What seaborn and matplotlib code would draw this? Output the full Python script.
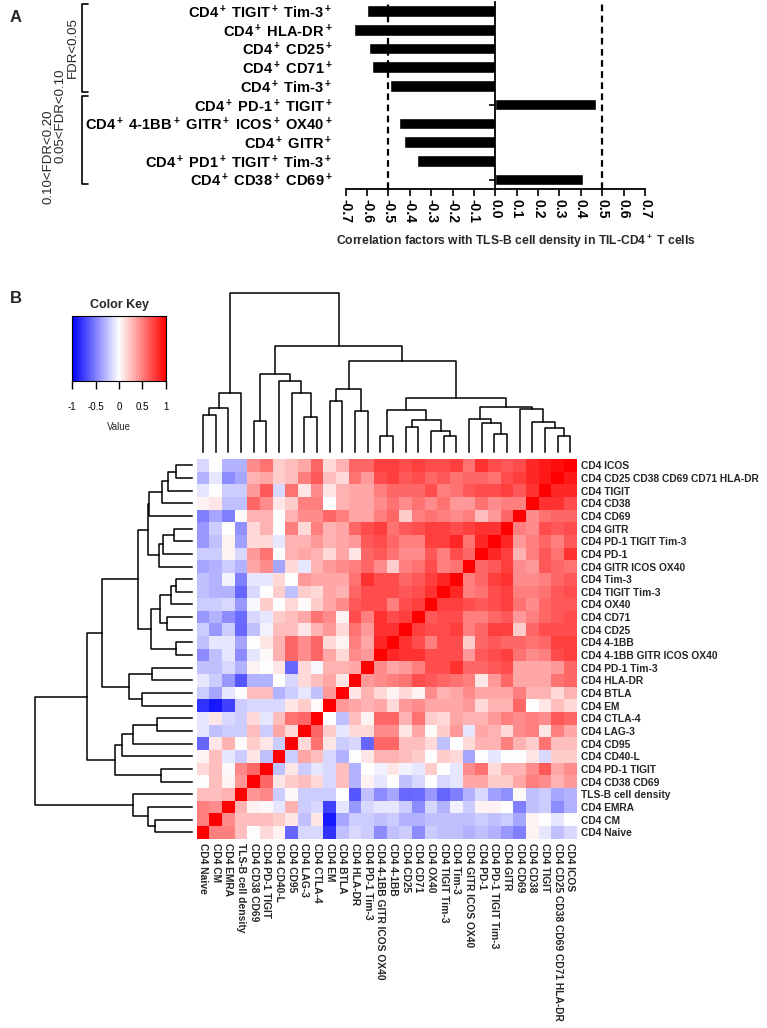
import numpy as np
import pandas as pd
import matplotlib
matplotlib.use('Agg')
import matplotlib.pyplot as plt
import matplotlib.transforms as mtransforms
import seaborn as sns

# ---- panel A data ----
bar_labels = ['CD4$^+$ TIGIT$^+$ Tim-3$^+$', 'CD4$^+$ HLA-DR$^+$', 'CD4$^+$ CD25$^+$',
              'CD4$^+$ CD71$^+$', 'CD4$^+$ Tim-3$^+$', 'CD4$^+$ PD-1$^+$ TIGIT$^+$',
              'CD4$^+$ 4-1BB$^+$ GITR$^+$ ICOS$^+$ OX40$^+$', 'CD4$^+$ GITR$^+$',
              'CD4$^+$ PD1$^+$ TIGIT$^+$ Tim-3$^+$', 'CD4$^+$ CD38$^+$ CD69$^+$']
bar_values = [-0.60, -0.66, -0.59, -0.577, -0.495, 0.469, -0.449, -0.428, -0.367, 0.411]
bar_ticks = [-0.7, -0.6, -0.5, -0.4, -0.3, -0.2, -0.1, 0.0, 0.1, 0.2, 0.3, 0.4, 0.5, 0.6, 0.7]

# ---- panel B data ----
row_labels = ['CD4 ICOS', 'CD4 CD25 CD38 CD69 CD71 HLA-DR', 'CD4 TIGIT', 'CD4 CD38', 'CD4 CD69',
              'CD4 GITR', 'CD4 PD-1 TIGIT Tim-3', 'CD4 PD-1', 'CD4 GITR ICOS OX40', 'CD4 Tim-3',
              'CD4 TIGIT Tim-3', 'CD4 OX40', 'CD4 CD71', 'CD4 CD25', 'CD4 4-1BB',
              'CD4 4-1BB GITR ICOS OX40', 'CD4 PD-1 Tim-3', 'CD4 HLA-DR', 'CD4 BTLA', 'CD4 EM',
              'CD4 CTLA-4', 'CD4 LAG-3', 'CD4 CD95', 'CD4 CD40-L', 'CD4 PD-1 TIGIT',
              'CD4 CD38 CD69', 'TLS-B cell density', 'CD4 EMRA', 'CD4 CM', 'CD4 Naive']
col_labels = row_labels[::-1]

heat_rows = [
    [-0.15, 0, -0.3, -0.3, 0.45, 0.55, 0.2, 0.25, 0.35, 0.6, 0.15, 0.3, 0.6, 0.6, 0.75, 0.75, 0.7, 0.75, 0.7, 0.7, 0.75, 0.55, 0.8, 0.7, 0.65, 0.7, 0.85, 0.9, 0.95, 1.0],
    [-0.3, -0.1, -0.45, -0.35, 0.3, 0.35, 0.2, 0.25, 0.5, 0.65, 0.25, 0.15, 0.55, 0.4, 0.7, 0.75, 0.65, 0.7, 0.6, 0.65, 0.55, 0.6, 0.6, 0.55, 0.7, 0.75, 0.85, 0.9, 1.0, 0.9],
    [-0.1, 0, -0.2, -0.2, 0.4, 0.65, -0.15, 0.55, 0.1, 0.45, 0.1, 0.3, 0.35, 0.35, 0.5, 0.6, 0.6, 0.6, 0.7, 0.5, 0.55, 0.65, 0.7, 0.7, 0.75, 0.65, 0.8, 1.0, 0.85, 0.85],
    [0.05, 0.1, -0.25, -0.25, 0.6, 0.45, 0.1, 0.2, 0.5, 0.5, 0, 0.3, 0.35, 0.35, 0.45, 0.55, 0.45, 0.55, 0.45, 0.55, 0.4, 0.4, 0.55, 0.45, 0.5, 0.5, 1.0, 0.8, 0.8, 0.7],
    [-0.5, -0.35, -0.5, 0.02, 0.3, 0.3, 0, 0.3, 0.45, 0.45, 0.6, 0.5, 0.35, 0.35, 0.5, 0.6, 0.2, 0.5, 0.55, 0.5, 0.45, 0.5, 0.25, 0.4, 0.6, 1.0, 0.45, 0.55, 0.6, 0.6],
    [-0.4, -0.2, 0, -0.43, 0.15, 0.3, 0, 0.5, 0.15, 0.5, 0.3, 0.35, 0.6, 0.7, 0.75, 0.55, 0.65, 0.7, 0.75, 0.75, 0.7, 0.75, 0.8, 0.8, 1.0, 0.5, 0.45, 0.7, 0.65, 0.7],
    [-0.4, -0.25, 0.05, -0.37, 0.15, 0.15, -0.1, 0.3, 0.3, 0.4, 0.3, 0.35, 0.4, 0.65, 0.7, 0.6, 0.5, 0.5, 0.75, 0.75, 0.85, 0.55, 0.85, 1.0, 0.85, 0.4, 0.5, 0.6, 0.5, 0.65],
    [-0.2, -0.2, 0.05, -0.15, 0.4, 0.55, 0, 0.3, 0.35, 0.3, 0.15, 0.35, 0.1, 0.6, 0.65, 0.55, 0.45, 0.45, 0.65, 0.5, 0.7, 0.6, 1.0, 0.85, 0.75, 0.3, 0.5, 0.65, 0.55, 0.8],
    [-0.35, -0.3, -0.2, -0.3, 0.35, 0.45, -0.35, 0.15, -0.1, 0.3, 0.4, 0.45, 0.5, 0.6, 0.45, 0.2, 0.5, 0.55, 0.7, 0.5, 0.55, 1.0, 0.6, 0.65, 0.75, 0.45, 0.4, 0.65, 0.6, 0.55],
    [-0.25, -0.3, -0.05, -0.5, -0.1, -0.1, 0.15, 0, 0.4, 0.35, 0.35, 0.35, 0.55, 0.8, 0.7, 0.7, 0.6, 0.65, 0.75, 0.85, 1.0, 0.5, 0.6, 0.75, 0.8, 0.45, 0.45, 0.5, 0.6, 0.65],
    [-0.25, -0.3, -0.3, -0.6, -0.15, 0, 0.2, -0.25, 0.2, 0.15, 0.35, 0.3, 0.6, 0.7, 0.7, 0.7, 0.65, 0.7, 0.8, 1.0, 0.85, 0.5, 0.55, 0.7, 0.75, 0.5, 0.5, 0.55, 0.65, 0.7],
    [-0.2, -0.2, -0.15, -0.4, -0.03, 0.2, 0, 0.15, 0.02, 0.2, 0.35, 0.45, 0.65, 0.7, 0.7, 0.5, 0.7, 0.75, 1.0, 0.75, 0.75, 0.7, 0.65, 0.7, 0.75, 0.55, 0.45, 0.6, 0.65, 0.65],
    [-0.4, -0.3, -0.45, -0.58, -0.15, -0.1, 0.2, 0.25, 0.35, 0.55, 0.45, 0.05, 0.7, 0.5, 0.8, 0.7, 0.75, 1.0, 0.65, 0.7, 0.7, 0.5, 0.5, 0.6, 0.65, 0.4, 0.5, 0.6, 0.65, 0.7],
    [-0.2, -0.4, -0.2, -0.59, -0.25, -0.05, 0.25, 0.25, 0.1, 0.3, 0.4, 0.15, 0.55, 0.4, 0.8, 0.8, 1.0, 0.75, 0.7, 0.7, 0.75, 0.5, 0.6, 0.75, 0.75, 0.2, 0.6, 0.7, 0.7, 0.7],
    [-0.25, -0.1, -0.1, -0.35, 0, 0.1, 0.3, 0.6, 0.45, 0.6, 0.15, 0.05, 0.5, 0.35, 0.85, 1.0, 0.8, 0.7, 0.5, 0.7, 0.7, 0.2, 0.6, 0.65, 0.6, 0.6, 0.55, 0.6, 0.75, 0.75],
    [-0.45, -0.25, -0.1, -0.45, -0.1, 0.02, 0.3, 0.6, 0.45, 0.6, 0.35, 0.15, 0.45, 0.4, 1.0, 0.85, 0.8, 0.8, 0.7, 0.7, 0.7, 0.4, 0.65, 0.7, 0.75, 0.55, 0.45, 0.5, 0.7, 0.75],
    [-0.25, -0.25, -0.15, -0.3, 0.05, 0, 0.1, -0.6, 0.15, -0.03, 0.3, 0.3, 0.35, 1.0, 0.45, 0.35, 0.4, 0.5, 0.7, 0.7, 0.8, 0.6, 0.6, 0.65, 0.7, 0.35, 0.35, 0.35, 0.4, 0.6],
    [-0.1, -0.2, -0.4, -0.66, -0.3, -0.3, 0, -0.15, 0.15, 0.25, 0.35, 0.1, 1.0, 0.4, 0.45, 0.5, 0.55, 0.7, 0.65, 0.6, 0.55, 0.5, 0.1, 0.4, 0.6, 0.35, 0.35, 0.35, 0.55, 0.6],
    [-0.2, -0.35, -0.1, 0, 0.25, 0.25, -0.3, -0.2, -0.1, -0.25, 0.4, 1.0, 0.1, 0.3, 0.15, 0.05, 0.15, 0.05, 0.45, 0.3, 0.35, 0.45, 0.35, 0.35, 0.35, 0.5, 0.3, 0.3, 0.15, 0.3],
    [-0.8, -0.9, -0.75, -0.2, -0.15, -0.15, -0.15, 0.1, 0.2, 0.02, 1.0, 0.4, 0.35, 0.3, 0.35, 0.15, 0.4, 0.45, 0.35, 0.35, 0.35, 0.4, 0.15, 0.3, 0.3, 0.6, 0, 0.1, 0.25, 0.15],
    [-0.1, 0.1, -0.15, -0.2, 0.15, -0.1, 0.25, 0.55, 0.6, 1.0, 0, -0.25, 0.25, 0.05, 0.6, 0.6, 0.3, 0.55, 0.2, 0.15, 0.35, 0.3, 0.3, 0.4, 0.5, 0.45, 0.5, 0.45, 0.65, 0.6],
    [-0.1, -0.25, -0.2, -0.2, 0.25, -0.2, 0.35, 0.15, 1.0, 0.6, 0.2, -0.1, 0.15, 0.15, 0.45, 0.45, 0.1, 0.35, 0.02, 0.2, 0.4, -0.1, 0.35, 0.3, 0.15, 0.45, 0.5, 0.1, 0.5, 0.35],
    [-0.6, 0.1, 0.3, 0.02, 0.2, 0.1, -0.2, 1.0, 0.15, 0.55, 0.1, -0.2, -0.15, -0.6, 0.6, 0.6, 0.25, 0.25, 0.15, -0.25, 0, 0.15, 0.3, 0.3, 0.5, 0.3, 0.2, 0.55, 0.25, 0.25],
    [0.05, 0.25, -0.1, -0.2, 0.1, -0.25, 1.0, -0.2, 0.35, 0.25, -0.15, -0.3, 0, 0.1, 0.3, 0.3, 0.25, 0.2, 0, 0.2, 0.15, -0.35, 0, -0.1, 0, 0, 0.1, -0.15, 0.2, 0.2],
    [0.15, 0.25, 0.03, 0.47, 0.6, 1.0, -0.25, 0.1, -0.2, -0.1, -0.15, 0.25, -0.3, 0, -0.05, 0.1, -0.05, -0.1, 0.2, 0, -0.1, 0.45, 0.55, 0.15, 0.3, 0.3, 0.45, 0.65, 0.35, 0.45],
    [0, 0.25, 0.05, 0.41, 1.0, 0.6, 0.1, 0.2, 0.25, 0.15, -0.15, 0.25, -0.3, 0.05, -0.1, 0, -0.25, -0.15, 0, -0.15, -0.1, 0.35, 0.35, 0.2, 0.2, 0.35, 0.5, 0.45, 0.3, 0.4],
    [0.25, 0.25, 0.3, 1.0, 0.41, 0.47, -0.2, 0.03, -0.2, -0.2, -0.2, 0, -0.66, -0.25, -0.45, -0.35, -0.59, -0.58, -0.4, -0.6, -0.5, -0.3, -0.15, -0.37, -0.43, 0.02, -0.25, -0.2, -0.35, -0.3],
    [0.5, 0.45, 1.0, 0.3, 0.05, 0.03, -0.1, 0.3, -0.2, -0.15, -0.75, -0.1, -0.4, -0.15, -0.1, -0.1, -0.2, -0.45, -0.15, -0.3, -0.05, -0.2, 0.05, 0.05, 0, -0.5, -0.25, -0.2, -0.45, -0.3],
    [0.5, 1.0, 0.45, 0.25, 0.25, 0.25, 0.2, 0.1, -0.25, 0.1, -0.9, -0.35, -0.2, -0.2, -0.25, -0.2, -0.3, -0.3, -0.25, -0.25, -0.25, -0.25, -0.2, -0.25, -0.2, -0.35, 0.05, 0, -0.1, 0],
    [1.0, 0.5, 0.5, 0.25, 0, 0.15, 0.05, -0.6, -0.15, -0.15, -0.8, -0.25, -0.15, -0.2, -0.45, -0.25, -0.2, -0.45, -0.2, -0.25, -0.25, -0.3, -0.25, -0.3, -0.4, -0.5, 0.05, -0.1, -0.25, -0.15],
]

# cluster tree on the row order (leaf 0 = top row); ids >= 30 are earlier merges
link_left = [0, 30, 31, 32, 5, 34, 35, 33, 9, 38, 12, 39, 14, 41, 37, 16, 18, 45, 44,
             20, 49, 50, 24, 51, 48, 28, 27, 26, 54]
link_right = [1, 2, 3, 4, 6, 7, 8, 36, 10, 11, 13, 40, 15, 42, 43, 17, 19, 46, 47,
              21, 22, 23, 25, 52, 53, 29, 55, 56, 57]
link_height = [16, 24, 29.3, 42.7, 17.7, 28.3, 33, 44, 16, 21, 25, 31.7, 16, 41, 53.3,
               40, 50, 62.3, 90, 35, 58.3, 70, 31, 76.7, 105, 36.7, 43.3, 58.3, 156.7]

key_ticks = [-1, -0.5, 0, 0.5, 1]

# ---- style ----
sns.set_style('white')
plt.rcParams['font.family'] = ['Liberation Sans', 'DejaVu Sans']
plt.rcParams['mathtext.fontset'] = 'custom'
plt.rcParams['mathtext.rm'] = 'Liberation Sans:bold'
plt.rcParams['mathtext.default'] = 'rm'

W, H = 767, 1028
fig = plt.figure(figsize=(W / 100, H / 100), dpi=100)


def box(x0, y0, x1, y1):
    # pixel box (top-left origin) -> figure fraction rect
    return [x0 / W, 1 - y1 / H, (x1 - x0) / W, (y1 - y0) / H]


# ================= Panel A =================
ax = fig.add_axes(box(345.7, 1.6, 645.0, 189.0))
sns.barplot(x=bar_values, y=bar_labels, color='black', saturation=1, orient='h',
            width=0.62, ax=ax)
ax.set_xlim(-0.7, 0.7)
ax.set_ylim(len(bar_values) - 0.5, -0.5)
for s in ['top', 'right']:
    ax.spines[s].set_visible(False)
ax.spines['left'].set_position(('data', 0))
ax.spines['left'].set_linewidth(1.3)
ax.spines['bottom'].set_linewidth(1.3)
ax.spines['left'].set_color('black')
ax.spines['bottom'].set_color('black')
ax.tick_params(axis='y', left=True, length=4, width=1.2, pad=113, colors='black', labelsize=10.5)
ax.tick_params(axis='x', bottom=True, length=5, width=1.2, colors='black', pad=2)
ax.set_xticks(bar_ticks)
ax.set_xticklabels([f'{t:.1f}' for t in bar_ticks], rotation=-90, fontsize=10, fontweight='bold')
for lab in ax.get_yticklabels():
    lab.set_fontweight('bold')
ax.set_xlabel('')
ax.set_ylabel('')
for xv in (-0.5, 0.5):
    ax.axvline(xv, color='black', ls=(0, (3, 2)), lw=1.6)

fig.text(516 / W, 1 - 241 / H, 'Correlation factors with TLS-B cell density in TIL-CD4$^+$ T cells',
         ha='center', va='center', fontsize=8.7, fontweight='bold')

# FDR brackets, x in figure pixels / y in bar units
tr = mtransforms.blended_transform_factory(fig.transFigure, ax.transData)
for y0, y1 in [(-0.38, 4.3), (4.55, 9.25)]:
    ax.plot([88 / W, 82 / W, 82 / W, 88 / W], [y0, y0, y1, y1], color='black', lw=1.2,
            transform=tr, clip_on=False)
ax.text(73 / W, 1.96, 'FDR<0.05', rotation=90, ha='center', va='center', fontsize=9.5, transform=tr)
ax.text(61 / W, 5.6, '0.05<FDR<0.10', rotation=90, ha='center', va='center', fontsize=9.5, transform=tr)
ax.text(49 / W, 7.8, '0.10<FDR<0.20', rotation=90, ha='center', va='center', fontsize=9.5, transform=tr)

fig.text(10 / W, 1 - 18 / H, 'A', fontsize=12, fontweight='bold', va='center')
fig.text(10 / W, 1 - 298 / H, 'B', fontsize=12, fontweight='bold', va='center')

# ================= Panel B =================
n = len(row_labels)
heat = pd.DataFrame(heat_rows, index=row_labels, columns=col_labels)

ax_hm = fig.add_axes(box(196.7, 459.0, 576.7, 838.5))
sns.heatmap(heat, cmap='bwr', vmin=-1, vmax=1, cbar=False, ax=ax_hm,
            xticklabels=True, yticklabels=True)
ax_hm.yaxis.tick_right()
ax_hm.tick_params(axis='both', length=0, pad=3)
ax_hm.set_yticklabels(row_labels, rotation=0, fontsize=7.4, fontweight='bold', ha='left')
ax_hm.set_xticklabels(col_labels, rotation=270, fontsize=7.4, fontweight='bold', va='top', ha='center')
ax_hm.set_xlabel('')
ax_hm.set_ylabel('')

# dendrogram segments from the merge list
pos = {i: i + 0.5 for i in range(n)}
hgt = {i: 0.0 for i in range(n)}
segs = []
for k, (a, b, h) in enumerate(zip(link_left, link_right, link_height)):
    segs.append(([pos[a], pos[a], pos[b], pos[b]], [hgt[a], h, h, hgt[b]]))
    pos[n + k] = (pos[a] + pos[b]) / 2
    hgt[n + k] = h
hmax = max(link_height)

ax_left = fig.add_axes(box(35.0, 459.0, 191.7, 838.5))
for p, h in segs:
    ax_left.plot(h, p, color='black', lw=1.1, solid_capstyle='projecting', clip_on=False)
ax_left.set_xlim(hmax, 0)
ax_left.set_ylim(n, 0)
ax_left.axis('off')

ax_top = fig.add_axes(box(196.7, 293.3, 576.7, 452.0))
for p, h in segs:
    ax_top.plot([n - v for v in p], h, color='black', lw=1.1, solid_capstyle='projecting', clip_on=False)
ax_top.set_xlim(0, n)
ax_top.set_ylim(0, hmax)
ax_top.axis('off')

# color key
ax_key = fig.add_axes(box(72.3, 316.0, 165.7, 381.0))
ax_key.imshow(np.linspace(-1, 1, 256)[None, :], cmap='bwr', vmin=-1, vmax=1,
              aspect='auto', extent=[-1, 1, 0, 1])
ax_key.set_yticks([])
ax_key.set_xticks(key_ticks)
ax_key.set_xticklabels(['-1', '-0.5', '0', '0.5', '1'], fontsize=7)
ax_key.tick_params(axis='x', bottom=True, length=6, width=1, pad=9, colors='black')
for s in ax_key.spines.values():
    s.set_visible(True)
    s.set_color('black')
    s.set_linewidth(0.8)
ax_key.set_title('Color Key', fontsize=9, fontweight='bold', pad=6)
fig.text(119 / W, 1 - 427 / H, 'Value', ha='center', va='center', fontsize=7)

fig.savefig('out.png', dpi=100)
